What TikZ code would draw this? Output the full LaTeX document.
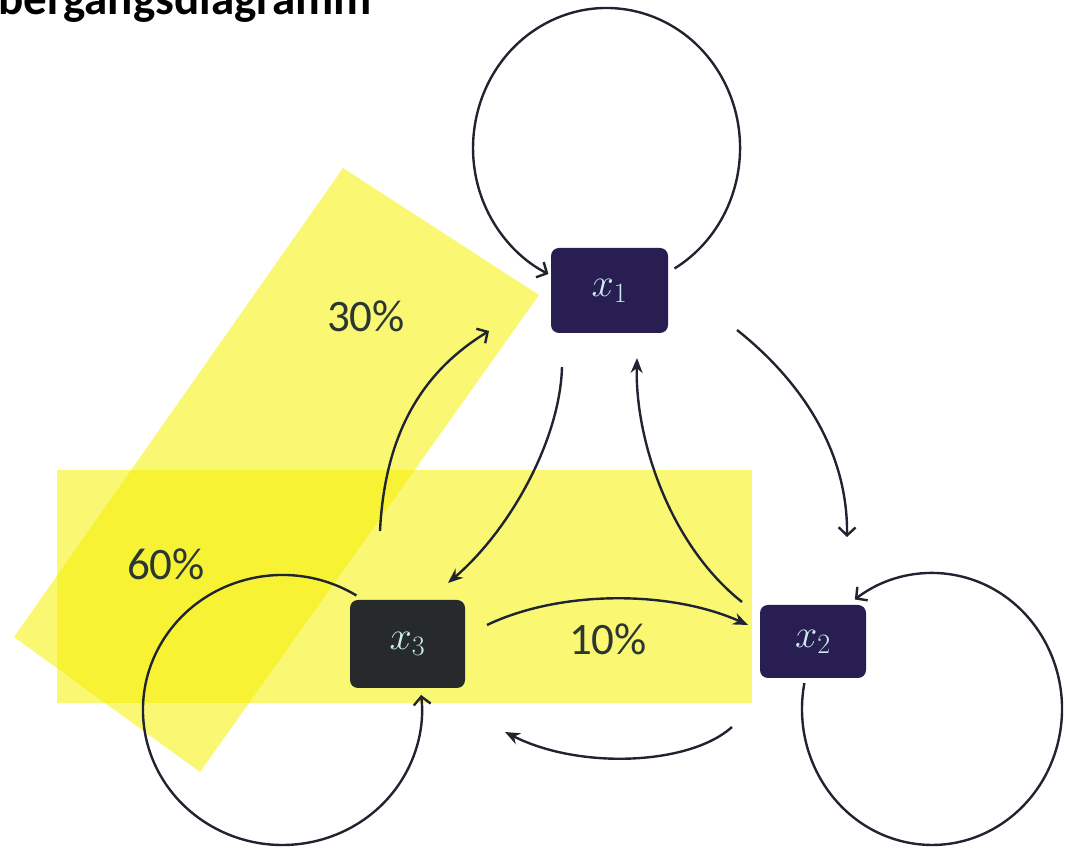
\RequirePackage{fix-cm}
\documentclass[tikz,border=0pt]{standalone}
\usepackage{fontspec}
\setmainfont{Carlito}
\usetikzlibrary{arrows.meta,calc}
\definecolor{navybox}{RGB}{40,30,82}
\definecolor{darkbox}{RGB}{38,42,42}
\definecolor{hl}{RGB}{245,240,0}
\definecolor{ln}{RGB}{32,36,48}
\definecolor{lbl}{RGB}{45,55,50}
\definecolor{sym}{RGB}{205,235,240}
\begin{document}
\begin{tikzpicture}[x=1pt,y=1pt,
  state/.style={rounded corners=8pt, inner sep=0pt, text=sym, font=\fontsize{40}{44}\selectfont},
  edge/.style={draw=ln, line width=2.4pt},
  barb/.style={-{Straight Barb[length=8pt,width=17pt]}},
  filled/.style={-{Stealth[length=15pt,width=12pt]}},
  pct/.style={text=lbl, inner sep=0pt, font=\fontsize{45}{50}\selectfont},
  highlight/.style={fill=hl, opacity=0.55}
]
\useasboundingbox (0,0) rectangle (1066,848);
% highlighter strokes
\fill[highlight] (57,145) rectangle (752,378);
\fill[highlight] (343,680) -- (539,553) -- (200,76) -- (14,211) -- cycle;
% title
\node[anchor=base west, inner sep=0pt, font=\fontsize{47}{50}\selectfont\bfseries] (title) at (-2,833) {bergangsdiagramm};
% states
\node[state, fill=navybox, minimum width=117pt, minimum height=85pt] (x1) at (609.5,557.5) {$x_1$};
\node[state, fill=darkbox, minimum width=115pt, minimum height=88pt] (x3) at (407.5,204) {$x_3$};
\node[state, fill=navybox, minimum width=106pt, minimum height=73pt] (x2) at (813,206.5) {$x_2$};
% self loops
\draw[edge, barb] ($(x1)+(65,22)$) arc[start angle=-59.4, end angle=244.2, x radius=133.5, y radius=140];
\draw[edge, barb] ($(x2)+(-8.6,-41.5)$) arc[start angle=169, end angle=486.4, x radius=130, y radius=136];
\draw[edge, barb] ($(x3)+(-51.1,48.5)$) arc[start angle=58, end angle=366.4, x radius=139.5, y radius=135];
% transitions
\draw[edge, barb] ($(x3)+(-27.5,113)$) .. controls (385,418) and (425,478) .. ($(x1)+(-120.5,-40.5)$);
\draw[edge, filled] ($(x1)+(-47.5,-76.5)$) .. controls (560,408) and (510,318) .. ($(x3)+(40.5,61)$);
\draw[edge, filled] ($(x3)+(79.5,19)$) .. controls (560,258) and (670,258) .. ($(x2)+(-65,16.5)$);
\draw[edge, filled] ($(x2)+(-71,39.5)$) .. controls (670,303) and (635,408) .. ($(x1)+(27.5,-67.5)$);
\draw[edge, barb] ($(x1)+(127.5,-39.5)$) .. controls (800,468) and (848,398) .. ($(x2)+(34,104.5)$);
\draw[edge, filled] ($(x2)+(-81,-85.5)$) .. controls (690,83) and (580,78) .. ($(x3)+(97.5,-88)$);
% labels
\node[pct] (p30) at (366,532) {30\%};
\node[pct] (p60) at (166,284) {60\%};
\node[pct] (p10) at (608,209) {10\%};
\end{tikzpicture}
\end{document}
